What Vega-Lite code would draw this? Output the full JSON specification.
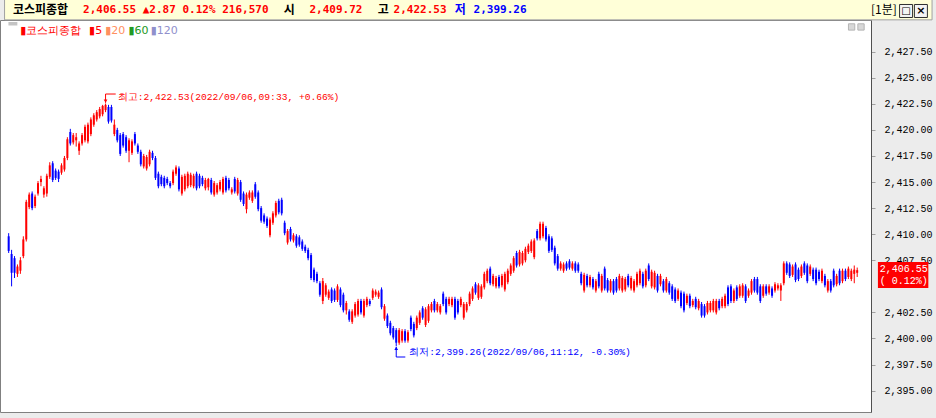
{
"$schema": "https://vega.github.io/schema/vega-lite/v6.json",
"width": 871,
"height": 392,
"autosize": {"type": "none"},
"padding": {"left": 0, "top": 20, "right": 65, "bottom": 6},
"background": "#ECECEC",
"view": {"fill": "#FFFFFF", "stroke": "#808080"},
"config": {"axisX": {"disable": true}, "axis": {"labelOverlap": false}},
"resolve": {"axis": {"y": "independent"}},
"datasets": {
"one": [{}],
"candles": [
{"i":0,"o":2409.8,"c":2408.4,"h":2410.1,"l":2408.2},
{"i":1,"o":2408.1,"c":2406.3,"h":2408.5,"l":2405.0},
{"i":2,"o":2407.7,"c":2406.3,"h":2407.9,"l":2405.8},
{"i":3,"o":2406.2,"c":2406.9,"h":2407.1,"l":2405.9},
{"i":4,"o":2406.5,"c":2407.5,"h":2407.8,"l":2406.2},
{"i":5,"o":2407.9,"c":2409.5,"h":2409.8,"l":2407.7},
{"i":6,"o":2409.5,"c":2413.1,"h":2413.3,"l":2409.3},
{"i":7,"o":2412.6,"c":2413.8,"h":2414.0,"l":2412.4},
{"i":8,"o":2413.9,"c":2412.5,"h":2414.1,"l":2412.3},
{"i":9,"o":2412.7,"c":2413.6,"h":2413.8,"l":2412.5},
{"i":10,"o":2413.9,"c":2414.9,"h":2415.1,"l":2413.7},
{"i":11,"o":2415.0,"c":2415.3,"h":2415.6,"l":2414.6},
{"i":12,"o":2413.8,"c":2414.4,"h":2414.6,"l":2413.5},
{"i":13,"o":2413.9,"c":2415.6,"h":2415.8,"l":2413.6},
{"i":14,"o":2415.5,"c":2416.6,"h":2416.9,"l":2415.3},
{"i":15,"o":2416.8,"c":2415.2,"h":2417.0,"l":2415.0},
{"i":16,"o":2416.1,"c":2415.4,"h":2416.3,"l":2415.2},
{"i":17,"o":2416.0,"c":2415.3,"h":2416.2,"l":2415.0},
{"i":18,"o":2415.9,"c":2416.6,"h":2416.8,"l":2415.7},
{"i":19,"o":2416.2,"c":2417.3,"h":2417.5,"l":2416.0},
{"i":20,"o":2417.3,"c":2419.1,"h":2419.3,"l":2417.1},
{"i":21,"o":2419.8,"c":2418.7,"h":2420.1,"l":2418.5},
{"i":22,"o":2418.8,"c":2419.5,"h":2419.7,"l":2418.6},
{"i":23,"o":2419.0,"c":2419.3,"h":2419.7,"l":2418.4},
{"i":24,"o":2418.0,"c":2418.7,"h":2418.9,"l":2417.6},
{"i":25,"o":2418.7,"c":2419.5,"h":2419.7,"l":2418.5},
{"i":26,"o":2419.0,"c":2420.3,"h":2420.5,"l":2418.8},
{"i":27,"o":2418.9,"c":2420.5,"h":2420.7,"l":2418.7},
{"i":28,"o":2419.6,"c":2421.0,"h":2421.2,"l":2419.4},
{"i":29,"o":2420.5,"c":2421.4,"h":2421.6,"l":2420.3},
{"i":30,"o":2421.0,"c":2421.7,"h":2421.9,"l":2420.8},
{"i":31,"o":2421.3,"c":2422.0,"h":2422.2,"l":2421.1},
{"i":32,"o":2421.5,"c":2422.3,"h":2422.4,"l":2421.3},
{"i":33,"o":2421.9,"c":2422.4,"h":2422.53,"l":2421.7},
{"i":34,"o":2422.2,"c":2420.8,"h":2422.4,"l":2420.6},
{"i":35,"o":2422.2,"c":2420.9,"h":2422.4,"l":2420.7},
{"i":36,"o":2419.6,"c":2420.5,"h":2421.0,"l":2419.4},
{"i":37,"o":2420.0,"c":2419.0,"h":2420.2,"l":2418.8},
{"i":38,"o":2419.5,"c":2417.7,"h":2419.7,"l":2417.5},
{"i":39,"o":2419.6,"c":2418.5,"h":2419.8,"l":2418.3},
{"i":40,"o":2419.3,"c":2418.0,"h":2419.5,"l":2417.8},
{"i":41,"o":2418.0,"c":2419.0,"h":2419.2,"l":2416.9},
{"i":42,"o":2417.8,"c":2418.9,"h":2419.1,"l":2417.6},
{"i":43,"o":2419.6,"c":2418.7,"h":2419.8,"l":2418.5},
{"i":44,"o":2418.5,"c":2417.9,"h":2418.7,"l":2417.7},
{"i":45,"o":2417.9,"c":2416.7,"h":2418.1,"l":2416.5},
{"i":46,"o":2416.5,"c":2417.5,"h":2417.7,"l":2416.3},
{"i":47,"o":2416.3,"c":2417.4,"h":2417.6,"l":2416.1},
{"i":48,"o":2416.7,"c":2417.9,"h":2418.1,"l":2416.5},
{"i":49,"o":2417.8,"c":2417.3,"h":2418.0,"l":2417.1},
{"i":50,"o":2417.3,"c":2415.4,"h":2417.5,"l":2415.2},
{"i":51,"o":2415.8,"c":2414.6,"h":2416.0,"l":2414.4},
{"i":52,"o":2415.5,"c":2414.8,"h":2415.7,"l":2414.6},
{"i":53,"o":2415.4,"c":2414.6,"h":2415.6,"l":2414.4},
{"i":54,"o":2415.3,"c":2414.9,"h":2415.5,"l":2414.7},
{"i":55,"o":2414.9,"c":2414.6,"h":2415.1,"l":2414.4},
{"i":56,"o":2414.9,"c":2416.0,"h":2416.2,"l":2414.7},
{"i":57,"o":2415.8,"c":2416.4,"h":2416.6,"l":2415.6},
{"i":58,"o":2416.3,"c":2414.3,"h":2416.5,"l":2414.1},
{"i":59,"o":2413.9,"c":2415.5,"h":2415.7,"l":2413.7},
{"i":60,"o":2414.3,"c":2415.6,"h":2415.8,"l":2414.1},
{"i":61,"o":2414.6,"c":2415.8,"h":2416.0,"l":2414.4},
{"i":62,"o":2414.7,"c":2415.7,"h":2415.9,"l":2414.5},
{"i":63,"o":2414.6,"c":2415.6,"h":2415.8,"l":2414.4},
{"i":64,"o":2415.8,"c":2414.4,"h":2416.0,"l":2414.2},
{"i":65,"o":2415.6,"c":2414.6,"h":2415.8,"l":2414.4},
{"i":66,"o":2415.4,"c":2414.8,"h":2415.6,"l":2414.6},
{"i":67,"o":2414.4,"c":2415.2,"h":2415.4,"l":2414.2},
{"i":68,"o":2414.5,"c":2415.3,"h":2415.4,"l":2414.2},
{"i":69,"o":2415.2,"c":2414.0,"h":2415.4,"l":2413.8},
{"i":70,"o":2413.8,"c":2414.9,"h":2415.1,"l":2413.6},
{"i":71,"o":2414.0,"c":2414.7,"h":2414.9,"l":2413.8},
{"i":72,"o":2414.3,"c":2415.0,"h":2415.2,"l":2414.1},
{"i":73,"o":2414.0,"c":2415.3,"h":2415.5,"l":2413.8},
{"i":74,"o":2415.4,"c":2414.2,"h":2415.6,"l":2414.0},
{"i":75,"o":2415.2,"c":2414.4,"h":2415.4,"l":2414.2},
{"i":76,"o":2414.0,"c":2414.3,"h":2414.5,"l":2413.8},
{"i":77,"o":2415.3,"c":2414.1,"h":2415.5,"l":2413.9},
{"i":78,"o":2413.9,"c":2415.2,"h":2415.4,"l":2413.7},
{"i":79,"o":2415.0,"c":2413.3,"h":2415.2,"l":2413.1},
{"i":80,"o":2413.9,"c":2412.9,"h":2414.1,"l":2412.7},
{"i":81,"o":2412.4,"c":2413.8,"h":2414.0,"l":2412.0},
{"i":82,"o":2413.5,"c":2414.0,"h":2414.2,"l":2413.3},
{"i":83,"o":2413.2,"c":2414.0,"h":2414.2,"l":2413.0},
{"i":84,"o":2414.8,"c":2413.6,"h":2415.0,"l":2413.4},
{"i":85,"o":2414.0,"c":2412.4,"h":2414.2,"l":2412.2},
{"i":86,"o":2412.5,"c":2411.3,"h":2412.7,"l":2411.1},
{"i":87,"o":2411.8,"c":2411.2,"h":2412.0,"l":2411.0},
{"i":88,"o":2411.5,"c":2410.8,"h":2411.7,"l":2410.6},
{"i":89,"o":2409.9,"c":2411.4,"h":2411.6,"l":2409.7},
{"i":90,"o":2411.1,"c":2412.0,"h":2412.2,"l":2410.9},
{"i":91,"o":2411.8,"c":2413.0,"h":2413.2,"l":2411.6},
{"i":92,"o":2413.2,"c":2412.1,"h":2413.4,"l":2411.9},
{"i":93,"o":2413.3,"c":2412.0,"h":2413.5,"l":2411.8},
{"i":94,"o":2411.1,"c":2410.1,"h":2411.3,"l":2409.9},
{"i":95,"o":2409.2,"c":2410.3,"h":2410.5,"l":2409.0},
{"i":96,"o":2410.5,"c":2409.5,"h":2410.7,"l":2409.3},
{"i":97,"o":2409.4,"c":2409.9,"h":2410.1,"l":2409.2},
{"i":98,"o":2409.8,"c":2408.9,"h":2410.0,"l":2408.7},
{"i":99,"o":2409.7,"c":2409.0,"h":2409.9,"l":2408.8},
{"i":100,"o":2409.3,"c":2408.6,"h":2409.5,"l":2408.4},
{"i":101,"o":2408.8,"c":2408.4,"h":2409.0,"l":2408.2},
{"i":102,"o":2408.5,"c":2407.7,"h":2408.7,"l":2407.5},
{"i":103,"o":2408.0,"c":2405.8,"h":2408.2,"l":2405.6},
{"i":104,"o":2406.6,"c":2405.6,"h":2406.8,"l":2405.4},
{"i":105,"o":2406.2,"c":2405.5,"h":2406.4,"l":2405.3},
{"i":106,"o":2405.3,"c":2404.2,"h":2405.5,"l":2404.0},
{"i":107,"o":2403.6,"c":2405.5,"h":2405.8,"l":2403.3},
{"i":108,"o":2404.2,"c":2405.1,"h":2405.3,"l":2404.0},
{"i":109,"o":2403.9,"c":2404.5,"h":2404.7,"l":2403.7},
{"i":110,"o":2404.7,"c":2403.6,"h":2404.9,"l":2403.4},
{"i":111,"o":2404.6,"c":2403.7,"h":2404.8,"l":2403.5},
{"i":112,"o":2403.7,"c":2405.0,"h":2405.2,"l":2403.5},
{"i":113,"o":2404.7,"c":2403.2,"h":2404.9,"l":2403.0},
{"i":114,"o":2404.2,"c":2402.7,"h":2404.4,"l":2402.5},
{"i":115,"o":2402.7,"c":2403.4,"h":2403.6,"l":2402.3},
{"i":116,"o":2402.6,"c":2401.8,"h":2402.8,"l":2401.6},
{"i":117,"o":2401.6,"c":2402.6,"h":2402.8,"l":2401.4},
{"i":118,"o":2402.2,"c":2403.3,"h":2403.5,"l":2402.0},
{"i":119,"o":2402.3,"c":2403.6,"h":2403.8,"l":2402.1},
{"i":120,"o":2403.6,"c":2402.5,"h":2403.8,"l":2402.3},
{"i":121,"o":2402.2,"c":2403.6,"h":2403.8,"l":2402.0},
{"i":122,"o":2403.2,"c":2403.8,"h":2404.0,"l":2403.0},
{"i":123,"o":2403.6,"c":2403.3,"h":2403.8,"l":2403.1},
{"i":124,"o":2403.9,"c":2404.6,"h":2404.8,"l":2403.7},
{"i":125,"o":2404.2,"c":2404.5,"h":2404.7,"l":2404.0},
{"i":126,"o":2404.0,"c":2404.4,"h":2404.6,"l":2403.8},
{"i":127,"o":2404.7,"c":2403.0,"h":2404.9,"l":2402.8},
{"i":128,"o":2401.9,"c":2403.1,"h":2403.3,"l":2401.7},
{"i":129,"o":2402.2,"c":2401.2,"h":2402.4,"l":2401.0},
{"i":130,"o":2401.5,"c":2400.5,"h":2401.7,"l":2400.3},
{"i":131,"o":2401.0,"c":2400.1,"h":2401.2,"l":2399.9},
{"i":132,"o":2400.8,"c":2399.6,"h":2401.0,"l":2399.26},
{"i":133,"o":2399.6,"c":2400.8,"h":2401.0,"l":2399.4},
{"i":134,"o":2399.8,"c":2400.7,"h":2400.9,"l":2399.6},
{"i":135,"o":2400.7,"c":2399.8,"h":2400.9,"l":2399.6},
{"i":136,"o":2399.8,"c":2400.6,"h":2400.8,"l":2399.6},
{"i":137,"o":2402.0,"c":2400.9,"h":2402.2,"l":2400.7},
{"i":138,"o":2401.4,"c":2400.3,"h":2401.6,"l":2400.1},
{"i":139,"o":2401.0,"c":2402.0,"h":2402.2,"l":2400.8},
{"i":140,"o":2401.5,"c":2402.5,"h":2402.7,"l":2401.3},
{"i":141,"o":2402.9,"c":2402.0,"h":2403.1,"l":2401.8},
{"i":142,"o":2401.3,"c":2402.8,"h":2403.0,"l":2401.1},
{"i":143,"o":2401.7,"c":2403.1,"h":2403.3,"l":2401.5},
{"i":144,"o":2402.7,"c":2403.3,"h":2403.5,"l":2402.5},
{"i":145,"o":2403.6,"c":2402.7,"h":2403.8,"l":2402.5},
{"i":146,"o":2402.7,"c":2403.3,"h":2403.5,"l":2402.5},
{"i":147,"o":2402.5,"c":2403.1,"h":2403.3,"l":2402.3},
{"i":148,"o":2404.3,"c":2403.3,"h":2404.5,"l":2403.1},
{"i":149,"o":2403.8,"c":2402.5,"h":2404.0,"l":2402.3},
{"i":150,"o":2403.3,"c":2403.8,"h":2404.0,"l":2403.1},
{"i":151,"o":2403.2,"c":2403.8,"h":2404.0,"l":2403.0},
{"i":152,"o":2403.8,"c":2402.0,"h":2404.0,"l":2401.8},
{"i":153,"o":2403.6,"c":2402.5,"h":2403.8,"l":2402.3},
{"i":154,"o":2403.2,"c":2403.8,"h":2404.0,"l":2403.0},
{"i":155,"o":2402.0,"c":2403.3,"h":2403.5,"l":2401.8},
{"i":156,"o":2402.7,"c":2403.3,"h":2403.5,"l":2402.5},
{"i":157,"o":2403.3,"c":2404.3,"h":2404.5,"l":2403.1},
{"i":158,"o":2403.8,"c":2404.8,"h":2405.0,"l":2403.6},
{"i":159,"o":2405.2,"c":2404.4,"h":2405.4,"l":2404.2},
{"i":160,"o":2403.9,"c":2405.1,"h":2405.3,"l":2403.7},
{"i":161,"o":2404.0,"c":2405.0,"h":2405.2,"l":2403.8},
{"i":162,"o":2404.9,"c":2406.2,"h":2406.4,"l":2404.7},
{"i":163,"o":2405.5,"c":2406.5,"h":2406.7,"l":2405.3},
{"i":164,"o":2406.7,"c":2405.3,"h":2406.9,"l":2405.1},
{"i":165,"o":2405.2,"c":2406.0,"h":2406.2,"l":2405.0},
{"i":166,"o":2405.0,"c":2405.8,"h":2406.0,"l":2404.8},
{"i":167,"o":2405.9,"c":2405.0,"h":2406.1,"l":2404.8},
{"i":168,"o":2405.1,"c":2406.0,"h":2406.2,"l":2404.9},
{"i":169,"o":2404.7,"c":2406.2,"h":2406.4,"l":2404.5},
{"i":170,"o":2405.4,"c":2406.5,"h":2406.7,"l":2405.2},
{"i":171,"o":2406.2,"c":2407.0,"h":2407.2,"l":2406.0},
{"i":172,"o":2406.5,"c":2407.7,"h":2407.9,"l":2406.3},
{"i":173,"o":2408.2,"c":2407.0,"h":2408.4,"l":2406.8},
{"i":174,"o":2407.1,"c":2408.3,"h":2408.5,"l":2406.9},
{"i":175,"o":2407.2,"c":2408.2,"h":2408.4,"l":2407.0},
{"i":176,"o":2407.5,"c":2408.6,"h":2408.8,"l":2407.3},
{"i":177,"o":2408.3,"c":2408.9,"h":2409.1,"l":2408.1},
{"i":178,"o":2408.4,"c":2409.3,"h":2409.5,"l":2408.2},
{"i":179,"o":2407.8,"c":2409.4,"h":2409.6,"l":2407.6},
{"i":180,"o":2410.3,"c":2409.6,"h":2410.5,"l":2409.4},
{"i":181,"o":2409.6,"c":2411.0,"h":2411.2,"l":2409.4},
{"i":182,"o":2409.8,"c":2411.0,"h":2411.2,"l":2409.6},
{"i":183,"o":2410.6,"c":2409.5,"h":2410.8,"l":2409.3},
{"i":184,"o":2409.8,"c":2408.4,"h":2410.0,"l":2408.2},
{"i":185,"o":2409.6,"c":2408.5,"h":2409.8,"l":2408.3},
{"i":186,"o":2408.7,"c":2407.2,"h":2408.9,"l":2407.0},
{"i":187,"o":2407.9,"c":2406.7,"h":2408.1,"l":2406.5},
{"i":188,"o":2406.7,"c":2407.2,"h":2407.4,"l":2406.5},
{"i":189,"o":2406.5,"c":2407.1,"h":2407.3,"l":2406.3},
{"i":190,"o":2407.2,"c":2406.7,"h":2407.4,"l":2406.5},
{"i":191,"o":2407.4,"c":2406.8,"h":2407.6,"l":2406.6},
{"i":192,"o":2406.7,"c":2407.2,"h":2407.4,"l":2406.5},
{"i":193,"o":2407.2,"c":2406.5,"h":2407.4,"l":2406.3},
{"i":194,"o":2407.1,"c":2406.5,"h":2407.3,"l":2406.3},
{"i":195,"o":2406.2,"c":2405.3,"h":2406.4,"l":2405.1},
{"i":196,"o":2404.6,"c":2406.1,"h":2406.3,"l":2404.4},
{"i":197,"o":2406.0,"c":2405.1,"h":2406.2,"l":2404.9},
{"i":198,"o":2405.1,"c":2405.9,"h":2406.1,"l":2404.9},
{"i":199,"o":2405.7,"c":2404.9,"h":2405.9,"l":2404.7},
{"i":200,"o":2404.6,"c":2405.5,"h":2405.7,"l":2404.4},
{"i":201,"o":2406.2,"c":2405.0,"h":2406.4,"l":2404.8},
{"i":202,"o":2404.6,"c":2406.0,"h":2406.2,"l":2404.4},
{"i":203,"o":2406.7,"c":2404.8,"h":2406.9,"l":2404.6},
{"i":204,"o":2405.6,"c":2404.6,"h":2405.8,"l":2404.4},
{"i":205,"o":2404.6,"c":2405.5,"h":2405.7,"l":2404.4},
{"i":206,"o":2405.5,"c":2404.4,"h":2405.7,"l":2404.2},
{"i":207,"o":2405.7,"c":2404.6,"h":2405.9,"l":2404.4},
{"i":208,"o":2404.8,"c":2406.0,"h":2406.2,"l":2404.6},
{"i":209,"o":2404.6,"c":2405.8,"h":2406.0,"l":2404.4},
{"i":210,"o":2404.7,"c":2405.7,"h":2405.9,"l":2404.5},
{"i":211,"o":2406.0,"c":2405.1,"h":2406.2,"l":2404.9},
{"i":212,"o":2404.8,"c":2405.8,"h":2406.0,"l":2404.6},
{"i":213,"o":2404.6,"c":2405.5,"h":2405.7,"l":2404.4},
{"i":214,"o":2405.1,"c":2406.2,"h":2406.4,"l":2404.9},
{"i":215,"o":2405.3,"c":2406.5,"h":2406.7,"l":2405.1},
{"i":216,"o":2406.2,"c":2405.0,"h":2406.4,"l":2404.8},
{"i":217,"o":2405.1,"c":2406.5,"h":2406.7,"l":2404.9},
{"i":218,"o":2407.0,"c":2405.7,"h":2407.2,"l":2405.5},
{"i":219,"o":2405.0,"c":2406.4,"h":2406.6,"l":2404.8},
{"i":220,"o":2404.9,"c":2406.3,"h":2406.5,"l":2404.7},
{"i":221,"o":2406.0,"c":2404.6,"h":2406.2,"l":2404.4},
{"i":222,"o":2405.2,"c":2406.0,"h":2406.2,"l":2405.0},
{"i":223,"o":2405.5,"c":2404.6,"h":2405.7,"l":2404.4},
{"i":224,"o":2404.6,"c":2405.7,"h":2405.9,"l":2404.4},
{"i":225,"o":2405.3,"c":2404.4,"h":2405.5,"l":2404.2},
{"i":226,"o":2405.0,"c":2403.8,"h":2405.2,"l":2403.6},
{"i":227,"o":2404.7,"c":2403.6,"h":2404.9,"l":2403.4},
{"i":228,"o":2403.8,"c":2404.6,"h":2404.8,"l":2403.6},
{"i":229,"o":2404.4,"c":2403.1,"h":2404.6,"l":2402.9},
{"i":230,"o":2404.3,"c":2402.7,"h":2404.5,"l":2402.5},
{"i":231,"o":2403.4,"c":2404.1,"h":2404.3,"l":2403.2},
{"i":232,"o":2404.1,"c":2403.1,"h":2404.3,"l":2402.9},
{"i":233,"o":2403.2,"c":2403.6,"h":2403.8,"l":2403.0},
{"i":234,"o":2403.8,"c":2403.0,"h":2404.0,"l":2402.8},
{"i":235,"o":2402.9,"c":2403.6,"h":2403.8,"l":2402.7},
{"i":236,"o":2403.3,"c":2402.2,"h":2403.5,"l":2402.0},
{"i":237,"o":2403.1,"c":2402.2,"h":2403.3,"l":2402.0},
{"i":238,"o":2402.5,"c":2403.4,"h":2403.6,"l":2402.3},
{"i":239,"o":2402.7,"c":2403.4,"h":2403.6,"l":2402.5},
{"i":240,"o":2402.7,"c":2403.6,"h":2403.8,"l":2402.5},
{"i":241,"o":2402.5,"c":2403.6,"h":2403.8,"l":2402.3},
{"i":242,"o":2403.6,"c":2402.9,"h":2403.8,"l":2402.7},
{"i":243,"o":2403.1,"c":2403.8,"h":2404.0,"l":2402.9},
{"i":244,"o":2403.1,"c":2404.1,"h":2404.3,"l":2402.9},
{"i":245,"o":2404.9,"c":2403.3,"h":2405.1,"l":2403.1},
{"i":246,"o":2405.0,"c":2403.6,"h":2405.2,"l":2403.4},
{"i":247,"o":2403.6,"c":2404.6,"h":2404.8,"l":2403.4},
{"i":248,"o":2404.9,"c":2403.8,"h":2405.1,"l":2403.6},
{"i":249,"o":2404.1,"c":2405.0,"h":2405.2,"l":2403.9},
{"i":250,"o":2404.1,"c":2405.1,"h":2405.3,"l":2403.9},
{"i":251,"o":2405.0,"c":2403.6,"h":2405.2,"l":2403.4},
{"i":252,"o":2404.1,"c":2404.6,"h":2404.8,"l":2403.9},
{"i":253,"o":2404.4,"c":2405.5,"h":2405.7,"l":2404.2},
{"i":254,"o":2405.7,"c":2404.6,"h":2405.9,"l":2404.4},
{"i":255,"o":2405.7,"c":2404.4,"h":2405.9,"l":2404.2},
{"i":256,"o":2405.0,"c":2403.6,"h":2405.2,"l":2403.4},
{"i":257,"o":2404.1,"c":2405.0,"h":2405.2,"l":2403.9},
{"i":258,"o":2405.0,"c":2404.3,"h":2405.2,"l":2404.1},
{"i":259,"o":2404.4,"c":2405.0,"h":2405.2,"l":2404.2},
{"i":260,"o":2404.8,"c":2404.1,"h":2405.0,"l":2403.9},
{"i":261,"o":2404.6,"c":2405.2,"h":2405.4,"l":2404.4},
{"i":262,"o":2404.8,"c":2405.1,"h":2405.3,"l":2404.6},
{"i":263,"o":2404.6,"c":2405.1,"h":2405.3,"l":2403.6},
{"i":264,"o":2405.3,"c":2407.2,"h":2407.4,"l":2405.1},
{"i":265,"o":2407.2,"c":2406.3,"h":2407.4,"l":2406.1},
{"i":266,"o":2407.1,"c":2406.0,"h":2407.3,"l":2405.8},
{"i":267,"o":2406.1,"c":2406.9,"h":2407.1,"l":2405.9},
{"i":268,"o":2407.1,"c":2405.6,"h":2407.3,"l":2405.4},
{"i":269,"o":2406.6,"c":2405.7,"h":2406.8,"l":2405.5},
{"i":270,"o":2406.0,"c":2406.9,"h":2407.1,"l":2405.8},
{"i":271,"o":2407.2,"c":2406.3,"h":2407.4,"l":2406.1},
{"i":272,"o":2407.0,"c":2405.5,"h":2407.2,"l":2405.3},
{"i":273,"o":2406.2,"c":2406.9,"h":2407.1,"l":2406.0},
{"i":274,"o":2406.6,"c":2405.7,"h":2406.8,"l":2405.5},
{"i":275,"o":2406.6,"c":2405.3,"h":2406.8,"l":2405.1},
{"i":276,"o":2406.4,"c":2405.7,"h":2406.6,"l":2405.5},
{"i":277,"o":2405.5,"c":2406.5,"h":2406.7,"l":2405.3},
{"i":278,"o":2406.0,"c":2405.1,"h":2406.2,"l":2404.9},
{"i":279,"o":2404.6,"c":2405.5,"h":2405.7,"l":2404.4},
{"i":280,"o":2405.5,"c":2404.6,"h":2405.7,"l":2404.4},
{"i":281,"o":2406.5,"c":2405.1,"h":2406.7,"l":2404.9},
{"i":282,"o":2405.2,"c":2406.0,"h":2406.2,"l":2405.0},
{"i":283,"o":2406.5,"c":2405.3,"h":2406.7,"l":2405.1},
{"i":284,"o":2405.5,"c":2406.5,"h":2406.7,"l":2405.3},
{"i":285,"o":2406.5,"c":2405.7,"h":2406.7,"l":2405.5},
{"i":286,"o":2405.9,"c":2406.7,"h":2406.9,"l":2405.7},
{"i":287,"o":2405.7,"c":2406.5,"h":2406.7,"l":2405.5},
{"i":288,"o":2406.2,"c":2406.6,"h":2407.0,"l":2405.3},
{"i":289,"o":2406.3,"c":2406.55,"h":2406.8,"l":2405.9}
]
},
"layer": [
{"data": {"name": "candles"},
 "mark": {"type": "rule", "strokeWidth": 1},
 "encoding": {
  "x": {"field": "i", "type": "quantitative", "scale": {"domain": [-1.246, 292.0], "nice": false, "zero": false}, "axis": null},
  "y": {"field": "l", "type": "quantitative", "scale": {"domain": [2392.953, 2430.537], "nice": false, "zero": false},
        "axis": {"orient": "right", "title": null, "values": [2395, 2397.5, 2400, 2402.5, 2407.5, 2410, 2412.5, 2415, 2417.5, 2420, 2422.5, 2425, 2427.5],
                 "format": ",.2f", "labelFont": "Liberation Mono", "labelFontSize": 10, "labelColor": "#000000", "tickColor": "#A0A0A0", "tickSize": 4,
                 "labelPadding": 9, "domainColor": "#505050", "grid": false, "labelOverlap": false}},
  "y2": {"field": "h"},
  "color": {"condition": {"test": "datum.c >= datum.o", "value": "#FF0000"}, "value": "#0000FF"}
 }},
{"data": {"name": "candles"},
 "mark": {"type": "bar", "width": 2},
 "encoding": {
  "x": {"field": "i", "type": "quantitative", "axis": null},
  "y": {"field": "o", "type": "quantitative", "axis": null},
  "y2": {"field": "c"},
  "color": {"condition": {"test": "datum.c >= datum.o", "value": "#FF0000"}, "value": "#0000FF"}
 }},
{"data": {"name": "one"},
 "mark": {"type": "rect", "fill": "#FFFFD8", "stroke": "#A0A0A0", "strokeWidth": 1},
 "encoding": {"x": {"datum": -1.4, "type": "quantitative", "axis": null}, "x2": {"datum": 314.5}, "y": {"datum": 2432.6, "type": "quantitative", "axis": null}, "y2": {"datum": 2430.55}}},
{"data": {"name": "one"},
 "mark": {"type": "text", "text": "코스피종합", "align": "left", "baseline": "middle", "font": "Noto Sans CJK KR", "fontWeight": "bold", "fontSize": 12, "color": "#000000"},
 "encoding": {"x": {"datum": 1.45, "type": "quantitative", "axis": null}, "y": {"datum": 2431.5, "type": "quantitative", "axis": null}}},
{"data": {"name": "one"},
 "mark": {"type": "text", "text": "2,406.55  ▲2.87  0.12% 216,570", "align": "left", "baseline": "middle", "font": "DejaVu Sans Mono", "fontWeight": "bold", "fontSize": 11, "color": "#FF0000"},
 "encoding": {"x": {"datum": 25.35, "type": "quantitative", "axis": null}, "y": {"datum": 2431.5, "type": "quantitative", "axis": null}}},
{"data": {"name": "one"},
 "mark": {"type": "text", "text": "시", "align": "left", "baseline": "middle", "font": "Noto Sans CJK KR", "fontWeight": "bold", "fontSize": 12, "color": "#000000"},
 "encoding": {"x": {"datum": 93.7, "type": "quantitative", "axis": null}, "y": {"datum": 2431.5, "type": "quantitative", "axis": null}}},
{"data": {"name": "one"},
 "mark": {"type": "text", "text": "2,409.72", "align": "left", "baseline": "middle", "font": "DejaVu Sans Mono", "fontWeight": "bold", "fontSize": 11, "color": "#FF0000"},
 "encoding": {"x": {"datum": 102.46, "type": "quantitative", "axis": null}, "y": {"datum": 2431.5, "type": "quantitative", "axis": null}}},
{"data": {"name": "one"},
 "mark": {"type": "text", "text": "고", "align": "left", "baseline": "middle", "font": "Noto Sans CJK KR", "fontWeight": "bold", "fontSize": 12, "color": "#000000"},
 "encoding": {"x": {"datum": 125.7, "type": "quantitative", "axis": null}, "y": {"datum": 2431.5, "type": "quantitative", "axis": null}}},
{"data": {"name": "one"},
 "mark": {"type": "text", "text": "2,422.53", "align": "left", "baseline": "middle", "font": "DejaVu Sans Mono", "fontWeight": "bold", "fontSize": 11, "color": "#FF0000"},
 "encoding": {"x": {"datum": 131.1, "type": "quantitative", "axis": null}, "y": {"datum": 2431.5, "type": "quantitative", "axis": null}}},
{"data": {"name": "one"},
 "mark": {"type": "text", "text": "저", "align": "left", "baseline": "middle", "font": "Noto Sans CJK KR", "fontWeight": "bold", "fontSize": 12, "color": "#0000FF"},
 "encoding": {"x": {"datum": 151.95, "type": "quantitative", "axis": null}, "y": {"datum": 2431.5, "type": "quantitative", "axis": null}}},
{"data": {"name": "one"},
 "mark": {"type": "text", "text": "2,399.26", "align": "left", "baseline": "middle", "font": "DejaVu Sans Mono", "fontWeight": "bold", "fontSize": 11, "color": "#0000FF"},
 "encoding": {"x": {"datum": 158.35, "type": "quantitative", "axis": null}, "y": {"datum": 2431.5, "type": "quantitative", "axis": null}}},
{"data": {"name": "one"},
 "mark": {"type": "text", "text": "[1분]", "align": "left", "baseline": "middle", "font": "Noto Sans CJK KR", "fontSize": 12, "color": "#000000"},
 "encoding": {"x": {"datum": 293.7, "type": "quantitative", "axis": null}, "y": {"datum": 2431.5, "type": "quantitative", "axis": null}}},
{"data": {"name": "one"},
 "mark": {"type": "square", "size": 169, "fill": "#F4F4F4", "stroke": "#303030", "strokeWidth": 1, "opacity": 1},
 "encoding": {"x": {"datum": 305.65, "type": "quantitative", "axis": null}, "y": {"datum": 2431.4, "type": "quantitative", "axis": null}}},
{"data": {"name": "one"},
 "mark": {"type": "square", "size": 169, "fill": "#F4F4F4", "stroke": "#303030", "strokeWidth": 1, "opacity": 1},
 "encoding": {"x": {"datum": 310.7, "type": "quantitative", "axis": null}, "y": {"datum": 2431.4, "type": "quantitative", "axis": null}}},
{"data": {"name": "one"},
 "mark": {"type": "text", "text": "□", "align": "center", "baseline": "middle", "font": "DejaVu Sans", "fontWeight": "bold", "fontSize": 10, "color": "#000000"},
 "encoding": {"x": {"datum": 305.65, "type": "quantitative", "axis": null}, "y": {"datum": 2431.4, "type": "quantitative", "axis": null}}},
{"data": {"name": "one"},
 "mark": {"type": "text", "text": "×", "align": "center", "baseline": "middle", "font": "DejaVu Sans", "fontWeight": "bold", "fontSize": 11, "color": "#000000"},
 "encoding": {"x": {"datum": 310.7, "type": "quantitative", "axis": null}, "y": {"datum": 2431.4, "type": "quantitative", "axis": null}}},
{"data": {"name": "one"},
 "mark": {"type": "rect", "fill": "#C4C4C4"},
 "encoding": {"x": {"datum": -0.07, "type": "quantitative", "axis": null}, "x2": {"datum": 2.96}, "y": {"datum": 2430.345, "type": "quantitative", "axis": null}, "y2": {"datum": 2430.01}}},
{"data": {"name": "one"},
 "mark": {"type": "square", "size": 40, "fill": "#D8D8D8", "stroke": "#B4B4B4", "strokeWidth": 1, "opacity": 1},
 "encoding": {"x": {"datum": 287.1, "type": "quantitative", "axis": null}, "y": {"datum": 2429.87, "type": "quantitative", "axis": null}}},
{"data": {"name": "one"},
 "mark": {"type": "square", "size": 40, "fill": "#D8D8D8", "stroke": "#B4B4B4", "strokeWidth": 1, "opacity": 1},
 "encoding": {"x": {"datum": 290.3, "type": "quantitative", "axis": null}, "y": {"datum": 2429.87, "type": "quantitative", "axis": null}}},
{"data": {"name": "one"},
 "mark": {"type": "text", "text": "▮코스피종합", "align": "left", "baseline": "middle", "font": "DejaVu Sans", "fontSize": 11, "color": "#FF0000"},
 "encoding": {"x": {"datum": 3.97, "type": "quantitative", "axis": null}, "y": {"datum": 2429.48, "type": "quantitative", "axis": null}}},
{"data": {"name": "one"},
 "mark": {"type": "text", "text": "▮5", "align": "left", "baseline": "middle", "font": "DejaVu Sans", "fontSize": 11, "color": "#FF0000"},
 "encoding": {"x": {"datum": 27.4, "type": "quantitative", "axis": null}, "y": {"datum": 2429.48, "type": "quantitative", "axis": null}}},
{"data": {"name": "one"},
 "mark": {"type": "text", "text": "▮20", "align": "left", "baseline": "middle", "font": "DejaVu Sans", "fontSize": 11, "color": "#FF9060"},
 "encoding": {"x": {"datum": 32.9, "type": "quantitative", "axis": null}, "y": {"datum": 2429.48, "type": "quantitative", "axis": null}}},
{"data": {"name": "one"},
 "mark": {"type": "text", "text": "▮60", "align": "left", "baseline": "middle", "font": "DejaVu Sans", "fontSize": 11, "color": "#229922"},
 "encoding": {"x": {"datum": 40.8, "type": "quantitative", "axis": null}, "y": {"datum": 2429.48, "type": "quantitative", "axis": null}}},
{"data": {"name": "one"},
 "mark": {"type": "text", "text": "▮120", "align": "left", "baseline": "middle", "font": "DejaVu Sans", "fontSize": 11, "color": "#9090CC"},
 "encoding": {"x": {"datum": 48.4, "type": "quantitative", "axis": null}, "y": {"datum": 2429.48, "type": "quantitative", "axis": null}}},
{"data": {"name": "one"},
 "mark": {"type": "rule", "color": "#FF0000", "strokeWidth": 1},
 "encoding": {"x": {"datum": 33, "type": "quantitative", "axis": null}, "y": {"datum": 2422.6, "type": "quantitative", "axis": null}, "y2": {"datum": 2423.44}}},
{"data": {"name": "one"},
 "mark": {"type": "rule", "color": "#FF0000", "strokeWidth": 1},
 "encoding": {"x": {"datum": 33, "type": "quantitative", "axis": null}, "x2": {"datum": 36.46}, "y": {"datum": 2423.44, "type": "quantitative", "axis": null}}},
{"data": {"name": "one"},
 "mark": {"type": "point", "shape": "triangle-down", "size": 14, "filled": true, "color": "#FF0000", "opacity": 1},
 "encoding": {"x": {"datum": 33, "type": "quantitative", "axis": null}, "y": {"datum": 2422.75, "type": "quantitative", "axis": null}}},
{"data": {"name": "one"},
 "mark": {"type": "text", "text": "최고:2,422.53(2022/09/06,09:33, +0.66%)", "align": "left", "baseline": "middle", "font": "Liberation Mono", "fontSize": 9.6, "color": "#FF0000"},
 "encoding": {"x": {"datum": 37.14, "type": "quantitative", "axis": null}, "y": {"datum": 2423.2, "type": "quantitative", "axis": null}}},
{"data": {"name": "one"},
 "mark": {"type": "rule", "color": "#0000FF", "strokeWidth": 1},
 "encoding": {"x": {"datum": 132, "type": "quantitative", "axis": null}, "y": {"datum": 2399.2, "type": "quantitative", "axis": null}, "y2": {"datum": 2398.226}}},
{"data": {"name": "one"},
 "mark": {"type": "rule", "color": "#0000FF", "strokeWidth": 1},
 "encoding": {"x": {"datum": 132, "type": "quantitative", "axis": null}, "x2": {"datum": 135.1}, "y": {"datum": 2398.226, "type": "quantitative", "axis": null}}},
{"data": {"name": "one"},
 "mark": {"type": "point", "shape": "triangle-up", "size": 14, "filled": true, "color": "#0000FF", "opacity": 1},
 "encoding": {"x": {"datum": 132, "type": "quantitative", "axis": null}, "y": {"datum": 2399.05, "type": "quantitative", "axis": null}}},
{"data": {"name": "one"},
 "mark": {"type": "text", "text": "최저:2,399.26(2022/09/06,11:12, -0.30%)", "align": "left", "baseline": "middle", "font": "Liberation Mono", "fontSize": 9.6, "color": "#0000FF"},
 "encoding": {"x": {"datum": 136.46, "type": "quantitative", "axis": null}, "y": {"datum": 2398.706, "type": "quantitative", "axis": null}}},
{"data": {"name": "one"},
 "mark": {"type": "rect", "fill": "#FF0000"},
 "encoding": {"x": {"datum": 296.06, "type": "quantitative", "axis": null}, "x2": {"datum": 313.23}, "y": {"datum": 2407.335, "type": "quantitative", "axis": null}, "y2": {"datum": 2404.842}}},
{"data": {"name": "one"},
 "mark": {"type": "text", "text": "2,406.55", "align": "left", "baseline": "middle", "font": "Liberation Mono", "fontSize": 10, "color": "#FFFFFF"},
 "encoding": {"x": {"datum": 296.7, "type": "quantitative", "axis": null}, "y": {"datum": 2406.66, "type": "quantitative", "axis": null}}},
{"data": {"name": "one"},
 "mark": {"type": "text", "text": "( 0.12%)", "align": "left", "baseline": "middle", "font": "Liberation Mono", "fontSize": 10, "color": "#FFFFFF"},
 "encoding": {"x": {"datum": 296.7, "type": "quantitative", "axis": null}, "y": {"datum": 2405.47, "type": "quantitative", "axis": null}}}
]
}
